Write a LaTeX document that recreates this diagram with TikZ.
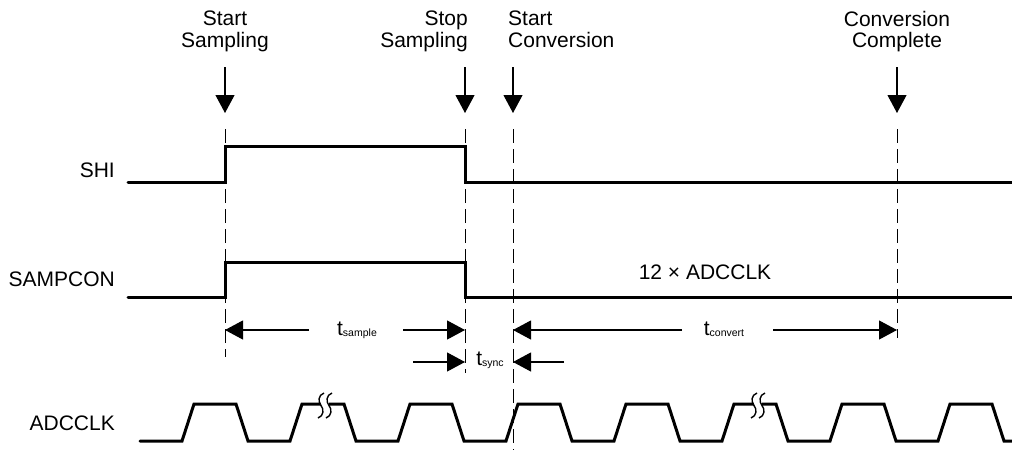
\documentclass[tikz,border=0pt]{standalone}
\usepackage{fontspec}
\setmainfont{Liberation Sans}
\usetikzlibrary{arrows.meta, calc}
\newcommand{\tlbl}[1]{t\raisebox{-1.5pt}{\fontsize{10.5}{12}\selectfont #1}}

\begin{document}
\begin{tikzpicture}[x=1pt, y=-1pt, >={Triangle[length=18pt, width=19pt]},
  every node/.style={font=\fontsize{21}{21.5}\selectfont, inner sep=0pt},
  sig/.style={line width=3pt, line cap=round},
  guide/.style={line width=1pt, dash pattern=on 14pt off 6pt},
  evarr/.style={->, line width=1.1pt},
  brk/.style={line width=1.4pt}]
  \useasboundingbox (0,0) rectangle (1012,450);
  % event instants
  \coordinate (smpA) at (225,0);
  \coordinate (smpB) at (465,0);
  \coordinate (cnvA) at (513,0);
  \coordinate (cnvB) at (897,0);
  \node[align=center, anchor=north] (lblSmpA) at ($(smpA)+(0,11)$) {Start\\Sampling};
  \node[align=right, anchor=north east] (lblSmpB) at ($(smpB)+(3,11)$) {Stop\\Sampling};
  \node[align=left, anchor=north west] (lblCnvA) at ($(cnvA)+(-5,11)$) {Start\\Conversion};
  \node[align=center, anchor=north] (lblCnvB) at ($(cnvB)+(0,11)$) {Conversion\\Complete};
  \foreach \ev/\low in {smpA/357, smpB/373, cnvA/450, cnvB/338} {
    \draw[evarr] ($(\ev)+(0,67)$) -- ($(\ev)+(0,113)$);
    \draw[guide] ($(\ev)+(0,129)$) -- ($(\ev)+(0,\low)$);
  }
  % signal names
  \node[anchor=base east] (nShi) at (115,177) {SHI};
  \node[anchor=base east] (nSamp) at (115,286) {SAMPCON};
  \node[anchor=base east] (nClk) at (115,430) {ADCCLK};
  % waveforms
  \draw[sig] (128,182) -| ($(smpA)+(0,146)$) -| ($(smpB)+(0,182)$) -- (1012,182);
  \draw[sig] (128,297) -| ($(smpA)+(0,262)$) -| ($(smpB)+(0,297)$) -- (1012,297);
  \node[anchor=base] (nMult) at (705,279) {12 × ADCCLK};
  \draw[sig] (140,441) \foreach \k in {0,...,7} {
    -- ({182+108*\k},441) -- ({194+108*\k},404) -- ({236+108*\k},404) -- ({248+108*\k},441)
  } -- (1012,441);
  \foreach \bx in {325, 758} {
    \fill[white] ({\bx-4},399) rectangle ({\bx+4},409);
    \foreach \dx in {-4, 4}
      \draw[brk] ({\bx+\dx+3},393) .. controls ({\bx+\dx-3},395) and ({\bx+\dx-3},402) .. ({\bx+\dx},405.5)
        .. controls ({\bx+\dx+3},409) and ({\bx+\dx+3},416) .. ({\bx+\dx-3},418);
  }
  % timing intervals
  \node[anchor=base] (tSmp) at (357,335) {\tlbl{sample}};
  \node[anchor=base] (tCnv) at (724,335) {\tlbl{convert}};
  \node[anchor=base] (tSyn) at (490,365) {\tlbl{sync}};
  \draw[evarr] ($(smpA)+(84,330)$) -- ($(smpA)+(0,330)$);
  \draw[evarr] ($(smpB)+(-62,330)$) -- ($(smpB)+(0,330)$);
  \draw[evarr] ($(cnvA)+(169,330)$) -- ($(cnvA)+(0,330)$);
  \draw[evarr] ($(cnvB)+(-124,330)$) -- ($(cnvB)+(0,330)$);
  \draw[evarr] ($(smpB)+(-52,362)$) -- ($(smpB)+(0,362)$);
  \draw[evarr] ($(cnvA)+(51,362)$) -- ($(cnvA)+(0,362)$);
\end{tikzpicture}
\end{document}
